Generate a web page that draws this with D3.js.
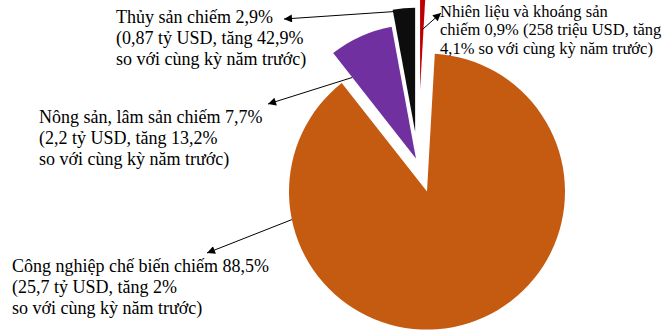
<!DOCTYPE html>
<html><head><meta charset="utf-8">
<script src="https://cdn.jsdelivr.net/npm/d3@7"></script>
<style>html,body{margin:0;padding:0;background:#fff;overflow:hidden}</style>
</head><body>
<svg id="chart" width="666" height="333"></svg>
<script>
// ---- data ----
const categories = ["Nhiên liệu và khoáng sản", "Công nghiệp chế biến", "Nông sản, lâm sản", "Thủy sản"];
const shares = [0.9, 88.5, 7.7, 2.9];
const labelLines = [
  ["Nhiên liệu và khoáng sản", "chiếm 0,9% (258 triệu USD, tăng", "4,1% so với cùng kỳ năm trước)"],
  ["Công nghiệp chế biến chiếm 88,5%", "(25,7 tỷ USD, tăng 2%", "so với cùng kỳ năm trước)"],
  ["Nông sản, lâm sản chiếm 7,7%", "(2,2 tỷ USD, tăng 13,2%", "so với cùng kỳ năm trước)"],
  ["Thủy sản chiếm 2,9%", "(0,87 tỷ USD, tăng 42,9%", "so với cùng kỳ năm trước)"]
];

// ---- style / layout ----
const colors = ["#C00000", "#C55A11", "#7030A0", "#0D0D0D"];
const explode = [73, 30, 5, 31.5];
const radii = [138, 138, 134, 124];
const cx = 418, cy = 163;
const fontSizes = [16.5, 18, 18, 18];
const lineGaps = [18.3, 21.2, 21.2, 21.2];
const labelPos = [[440, 17], [12, 272], [39, 123], [116, 23]];
// arrow: start on slice (angle in deg from slice apex, distance), end (tip)
const arrowStart = [[1.62, 60], [258.3, 138], [321.84, 103], [349.56, 122]];
const arrowTip = [[441, 13], [207, 253], [268, 104], [284, 19]];

const svg = d3.select("#chart");
const pie = d3.pie().sort(null).startAngle(0).endAngle(2 * Math.PI)(shares);

const defs = svg.append("defs");
defs.append("marker").attr("id", "ah").attr("viewBox", "0 0 10 10")
  .attr("refX", 10).attr("refY", 5).attr("markerWidth", 11).attr("markerHeight", 8)
  .attr("markerUnits", "userSpaceOnUse").attr("orient", "auto")
  .append("path").attr("d", "M0,0 L10,5 L0,10 Z").attr("fill", "#000");

const apex = pie.map((d, i) => {
  const m = (d.startAngle + d.endAngle) / 2;
  return [cx + explode[i] * Math.sin(m), cy - explode[i] * Math.cos(m)];
});

svg.append("g").selectAll("path").data(pie).join("path")
  .attr("transform", (d, i) => `translate(${apex[i][0]},${apex[i][1]})`)
  .attr("d", (d, i) => d3.arc().innerRadius(0).outerRadius(radii[i])(d))
  .attr("fill", (d, i) => colors[i]);

// arrows
svg.append("g").selectAll("line").data(pie).join("line")
  .attr("x1", (d, i) => apex[i][0] + arrowStart[i][1] * Math.sin(arrowStart[i][0] * Math.PI / 180))
  .attr("y1", (d, i) => apex[i][1] - arrowStart[i][1] * Math.cos(arrowStart[i][0] * Math.PI / 180))
  .attr("x2", (d, i) => arrowTip[i][0])
  .attr("y2", (d, i) => arrowTip[i][1])
  .attr("stroke", "#000").attr("stroke-width", 1)
  .attr("marker-end", "url(#ah)");

// labels
const lg = svg.append("g").attr("font-family", "'Liberation Serif', 'Times New Roman', serif").attr("fill", "#000");
labelLines.forEach((lines, i) => {
  const t = lg.append("text").attr("x", labelPos[i][0]).attr("y", labelPos[i][1])
    .attr("font-size", fontSizes[i] + "px");
  lines.forEach((s, j) => {
    t.append("tspan").attr("x", labelPos[i][0]).attr("y", labelPos[i][1] + j * lineGaps[i]).text(s);
  });
});
</script>
</body></html>
